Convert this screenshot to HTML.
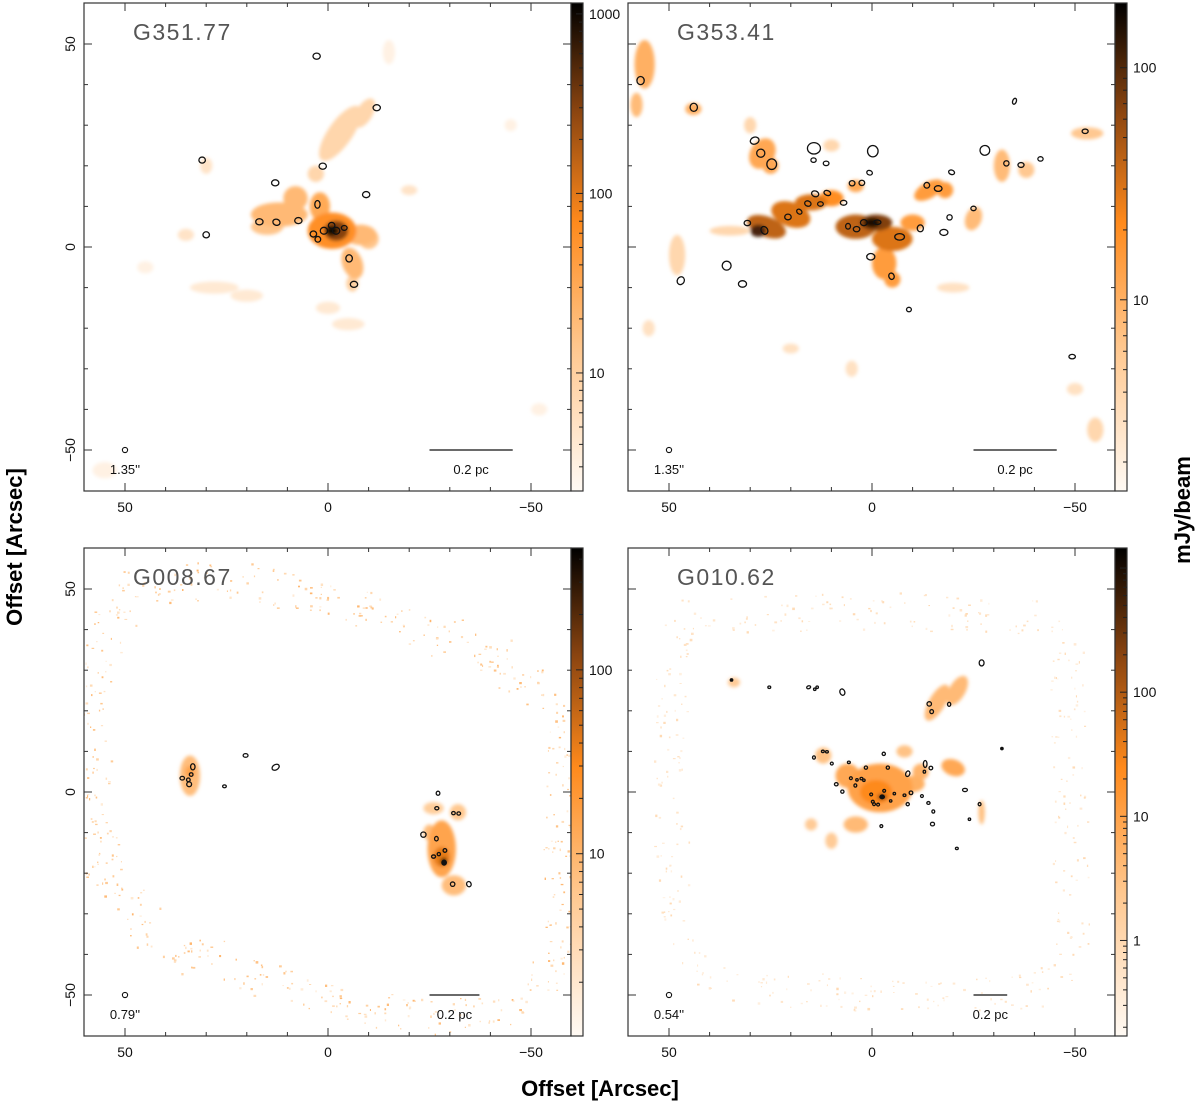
<!DOCTYPE html>
<html><head><meta charset="utf-8"><title>Continuum maps</title>
<style>
html,body{margin:0;padding:0;background:#fff;}
svg{display:block;font-family:"Liberation Sans",sans-serif;}
</style></head>
<body>
<svg id="fig" width="1200" height="1106" viewBox="0 0 1200 1106" xmlns="http://www.w3.org/2000/svg">
<defs>
<filter id="blur" x="-50%" y="-50%" width="200%" height="200%"><feGaussianBlur stdDeviation="1.8"/></filter>
<linearGradient id="cbgrad" x1="0" y1="1" x2="0" y2="0">
<stop offset="0" stop-color="#fffaf4"/><stop offset="0.3" stop-color="#ffc68c"/><stop offset="0.55" stop-color="#ff8a1c"/><stop offset="0.78" stop-color="#8a4410"/><stop offset="1" stop-color="#000"/>
</linearGradient>
</defs>
<text x="22" y="547" transform="rotate(-90 22 547)" text-anchor="middle" font-size="22" font-weight="bold" fill="#000">Offset [Arcsec]</text>
<text x="600" y="1096" text-anchor="middle" font-size="22" font-weight="bold" fill="#000">Offset [Arcsec]</text>
<text x="1190" y="510" transform="rotate(-90 1190 510)" text-anchor="middle" font-size="22" font-weight="bold" fill="#000">mJy/beam</text>
</svg>
<script>
// ---------- data ----------
const panelNames = ["G351.77","G353.41","G008.67","G010.62"];
const beamLabels = ["1.35''","1.35''","0.79''","0.54''"];
const cbMin = [2.2, 1.5, 1.02, 0.17];
const cbMax = [1150, 190, 460, 1450];
const cbLabels = [[10,100,1000],[10,100],[10,100],[1,10,100]];
const scaleBarLen = [20.5, 20.5, 12.3, 8.3];
const xTickLabels = [50,0,-50];
const yTickLabels = [50,0,-50];

// emission blobs: [x, y, rx, ry, angle, mJy]
const blobsTL = [[28,-10,6,1.5,0,4],[20,-12,4,1.5,0,4],[0,-15,3,1.5,0,4],[-5,-19,4,1.5,0,4],[45,-5,2,1.5,0,3],[-15,48,1.5,3,0,3],[-45,30,1.5,1.5,0,3],[55,-55,3,2,0,3],[-52,-40,2,1.5,0,3],[35,3,2,1.5,0,5],[-20,14,2,1.2,0,5],[30,20,1.5,2,0,5],
[-3,28,3,8,-35,8],[-9,33,2,4,-30,8],[3,18,2,2,0,8],[15,5,4,2,0,15],[-10,2,2.5,2.5,0,15],[-6,-9,1.5,2,0,10],[12,8,7,3,0,20],[8,12,3,3,0,20],[-6,-4,2.5,4,20,20],[-8,3,4,2.5,0,20],[2,10,2.5,3.5,0,30],[-1,4,6,4.5,0,60],[-2,4,3,2.5,0,300],[-1,4,1.6,1.2,0,1000]];
const blobsTR = [[-50,-35,2,1.5,0,3],[55,-20,1.5,2,0,3],[-55,-45,2,3,0,4],[-20,-10,4,1.2,0,3],[20,-25,2,1.2,0,3],[5,-30,1.5,2,0,3],[48,-2,2,5,0,4],[35,4,5,1.2,0,4],[30,30,1.5,2,0,4],[10,25,2,1.5,0,4],[-53,28,4,1.5,0,6],[-38,19,2,2,0,6],[58,35,1.5,3,0,8],[-32,20,2,4,0,8],[-25,7,2,3,-20,8],[44,34,2,1.5,0,10],[56,45,2.5,6,0,10],[4,15,2,1.5,0,12],[27,23,3,4,-30,12],[25,20,2,2,0,12],
[-3,-4,3,4,0,15],[-5,-8,2,2,0,15],[-10,6,3,2,0,15],[-14,14,4,2,30,15],[-18,14,2,2,0,15],[10,12,3,2,0,20],[20,8,5,3,-20,30],[15,11,4,2,0,30],[-5,2,5,3,0,30],[26,5,5,2.5,-20,40],[4,5,5,3,0,40],[-1,6,4,2,0,70],[28,4,2,1.5,0,110],[0,6,2,1.2,0,150]];
const blobsBL = [[-26,-4,2.5,1.5,0,5],[-32,-5,2,2,0,6],[34,4,2.5,5,0,8],[-31,-23,3,2.5,0,8],[-25,-10,1.5,2,0,8],[-28,-14,3.5,7,0,15],[34,5,1.2,1.5,0,15],[-28,-16,2,2.5,0,40],[-28.5,-17,0.8,0.8,0,300]];
const blobsBR = [[10,-12,1.5,2,0,2],[34,27,1.5,1.2,0,2],[15,-8,1.5,1.5,0,2],[-8,10,2,1.5,0,3],[12,9,2,2,0,3],[-27,-5,0.8,3,0,3],[-16,22,2,5,-30,4],[-21,25,2,4,-30,4],[4,-8,3,2,0,4],[-12,5,2,2,0,5],[-10,2,3,2,0,6],[6,4,3,3,0,8],[-20,6,3,2,-20,8],[-2,1,8,6,0,10],[-1,0,4,3,0,25],[-2.5,-1.2,1.2,0.8,0,150]];

// source ellipses: [x, y, a, b, angle]
const srcTL = [[2.8,47,.9,.75,0],[-12,34.3,.9,.75,0],[31,21.4,.8,.75,0],[1.3,19.9,.9,.75,0],[13,15.8,.9,.75,0],[-9.4,12.9,.9,.75,0],[2.6,10.5,.65,.95,0],[16.9,6.2,.9,.75,0],[12.7,6.1,.9,.75,-20],[7.3,6.5,.9,.75,0],[30,3,.8,.75,0],[3.6,3.2,.8,.75,0],[2.5,1.9,.7,.7,0],[1,4,.9,.85,0],[-0.9,5.3,.8,.75,0],[-2,4,.9,.85,0],[-4,4.7,.7,.6,0],[-5.2,-2.8,.8,.9,0],[-6.4,-9.2,.9,.75,0]];
const srcTR = [[57,41,.9,1,0],[43.9,34.4,.9,1,0],[28.9,26.2,1.1,.85,20],[27.4,23.1,1,1,0],[24.7,20.4,1.2,1.3,0],[14.3,24.3,1.6,1.4,0],[14.4,21.4,.65,.55,0],[11.3,20.6,.7,.55,0],[-0.2,23.6,1.3,1.4,0],[0.6,18.3,.7,.55,-20],[4.9,15.7,.7,.65,0],[2.5,15.8,.7,.65,0],[14,13.1,.9,.7,-20],[11,13.3,.85,.6,-20],[15.8,10.7,.8,.65,-20],[12.7,10.6,.7,.55,0],[17.9,8.7,.7,.55,-40],[20.7,7.4,.8,.7,0],[7,10.9,.8,.6,0],[30.7,5.9,.8,.65,0],[26.5,4.1,.8,1,30],[5.9,5.1,.6,.7,0],[3.8,4.4,.8,.65,0],[2,6,.85,.75,0],[-1.3,6.1,.9,.55,0],[-6.8,2.5,1.2,.8,0],[-11.9,4.6,.75,.85,0],[-13.5,15.2,.7,.7,0],[-16.3,14.4,.95,.7,0],[-19.6,18.4,.75,.55,-20],[-27.8,23.8,1.2,1.2,30],[-33.1,20.6,.65,.65,-20],[-36.7,20.2,.75,.6,0],[-41.5,21.7,.65,.55,0],[-35.1,35.9,.45,.75,-20],[-52.5,28.5,.75,.55,0],[-19.1,7.3,.65,.65,0],[-17.7,3.6,1,.75,0],[-25,9.5,.65,.55,0],[0.3,-2.4,1,.8,0],[-4.8,-7.2,.65,.8,20],[-9.1,-15.4,.6,.55,0],[35.8,-4.6,1.1,1.1,0],[47.1,-8.3,.85,1,-30],[31.9,-9.1,1,.8,0],[-49.3,-27,.8,.55,0]];
const srcBL = [[33.3,6.2,.55,.75,0],[33.7,4.3,.45,.45,0],[35.9,3.4,.55,.45,0],[34.4,3,.45,.45,0],[34.2,1.9,.6,.6,0],[20.3,9,.6,.45,0],[25.5,1.4,.45,.35,0],[12.9,6.1,.95,.65,30],[-27.1,-0.3,.45,.5,0],[-26.8,-4,.5,.4,0],[-30.9,-5.2,.45,.4,0],[-32.2,-5.3,.45,.4,0],[-23.5,-10.5,.65,.65,0],[-26.7,-11.5,.45,.55,0],[-28.8,-14.4,.45,.45,0],[-27.3,-15.3,.4,.4,0],[-26,-15.9,.5,.4,0],[-28.6,-17.4,.55,.6,0],[-30.7,-22.7,.55,.55,0],[-34.7,-22.7,.55,.65,20]];
const srcBR = [[34.6,27.6,.3,.3,0],[25.3,25.8,.35,.3,0],[15.6,25.8,.5,.35,20],[14.1,25.3,.3,.3,0],[13.5,25.8,.3,.3,0],[7.3,24.6,.6,.8,20],[-27,31.8,.6,.75,0],[-14.1,21.7,.55,.55,0],[-14.7,19.8,.45,.5,0],[-19,21.6,.4,.5,0],[-32,10.7,.3,.3,0],[12.1,10,.35,.3,0],[11.1,9.9,.35,.3,0],[14.3,8.5,.35,.4,0],[-2.9,9.4,.4,.4,0],[9.9,7,.35,.35,0],[5.7,7.3,.35,.3,0],[1.5,6,.4,.4,0],[-3.9,6,.4,.4,0],[-13.1,6.9,.45,.85,0],[-12.9,5,.3,.35,0],[-14.5,5.9,.45,.45,0],[-8.8,4.5,.5,.7,-20],[5.2,3.4,.35,.35,0],[3.7,3,.3,.3,0],[2.6,3.3,.35,.3,0],[2,2.9,.3,.3,0],[8.8,1.9,.45,.4,0],[4.1,1.6,.35,.4,0],[7.3,0.1,.4,.4,0],[-3,0.3,.35,.35,0],[0.2,-0.6,.35,.35,0],[-2.5,-1.2,.55,.45,0],[-5.5,-0.4,.3,.3,0],[-8,-0.8,.35,.3,0],[-9.6,-0.2,.45,.45,0],[-0.2,-2.4,.35,.35,0],[-0.5,-3,.35,.35,0],[-1.5,-3.1,.35,.35,0],[-4.6,-2.2,.3,.3,0],[-12.3,-1,.35,.35,0],[-13.9,-2.7,.4,.35,0],[-8.8,-3,.4,.4,0],[-22.9,0.5,.6,.4,0],[-15.1,-4.8,.35,.4,0],[-26.5,-3,.35,.4,0],[-14.9,-7.9,.5,.45,0],[-24,-6.7,.3,.3,0],[-2.3,-8.4,.35,.35,0],[-20.9,-13.9,.35,.3,0]];
const filledBR = [0,10,32];
const filledBL = [17];

// noise rings (polygon vertices in arcsec)
const ringBL = [[48,50],[25,53],[-10,45],[-40,34],[-57,20],[-58,-40],[-48,-52],[-25,-56],[10,-49],[40,-37],[55,-22],[58,20],[55,40],[48,50]];
const ringBR = [[45,43],[0,45],[-40,43],[-48,35],[-49,-40],[-40,-49],[0,-51],[40,-46],[49,-38],[50,30],[45,43]];
const ringDensity = [0, 0, 1.5, 1.1];
const ringBright = [0, 0, 0.8, 0.55];

const blobs = [blobsTL, blobsTR, blobsBL, blobsBR];
const srcs = [srcTL, srcTR, srcBL, srcBR];
const filled = [[], [], filledBL, filledBR];
const rings = [null, null, ringBL, ringBR];

// ---------- layout ----------
const NS = "http://www.w3.org/2000/svg";
const svg = document.getElementById("fig");
const PX = 4.06;
const frames = [[84,3],[628,3],[84,548],[628,548]];
const W = 487, H = 488;
const stops = [[0,[255,250,244]],[0.3,[255,198,140]],[0.55,[255,138,28]],[0.78,[138,68,16]],[1,[0,0,0]]];
function cmap(t){
  t = Math.max(0, Math.min(1, t));
  for (let i = 1; i < stops.length; i++) {
    if (t <= stops[i][0]) {
      const a = stops[i-1], b = stops[i], f = (t - a[0]) / (b[0] - a[0]);
      const c = a[1].map((v, k) => Math.round(v + (b[1][k] - v) * f));
      return "rgb(" + c.join(",") + ")";
    }
  }
  return "#000";
}
function mk(tag, attrs, parent){
  const e = document.createElementNS(NS, tag);
  for (const k in attrs) e.setAttribute(k, attrs[k]);
  (parent || svg).appendChild(e);
  return e;
}
function hash(i){ const s = Math.sin(i * 12.9898 + 78.233) * 43758.5453; return s - Math.floor(s); }

frames.forEach(function(fr, p){
  const L = fr[0], T = fr[1];
  const xs = v => L + 244 - v * PX;
  const ys = v => T + 244 - v * PX;
  const lmin = Math.log10(cbMin[p]), lmax = Math.log10(cbMax[p]);
  const tOf = v => (Math.log10(v) - lmin) / (lmax - lmin);
  const cbY = v => T + H - tOf(v) * H;

  const g = mk("g", {});
  
  
  const clipId = "clip" + p;
  const cp = mk("clipPath", {id: clipId}, g);
  mk("rect", {x: L, y: T, width: W, height: H}, cp);
  const img = mk("g", {"clip-path": "url(#" + clipId + ")"}, g);

  // noise ring (texture)
  if (rings[p]) {
    const ring = rings[p];
    let n = 0;
    for (let s = 0; s < ring.length - 1; s++) {
      const a = ring[s], b = ring[s+1];
      const len = Math.hypot(b[0]-a[0], b[1]-a[1]);
      const cnt = Math.round(len * ringDensity[p]);
      for (let k = 0; k < cnt; k++) {
        n++;
        const f = hash(n);
        const jx = (hash(n + 0.37) - 0.5) * 9, jy = (hash(n + 0.71) - 0.5) * 9;
        const x = a[0] + (b[0]-a[0]) * f + jx, y = a[1] + (b[1]-a[1]) * f + jy;
        const v = cbMin[p] * Math.pow(10, 0.2 + hash(n + 0.13) * ringBright[p]);
        const r = mk("rect", {x: xs(x).toFixed(1), y: ys(y).toFixed(1), width: (1 + hash(n+0.5)*1.8).toFixed(1), height: (1 + hash(n+0.9)*1.5).toFixed(1), fill: cmap(tOf(v))}, img);
        
        
      }
    }
  }
  // emission blobs
  const eg = mk("g", {filter: "url(#blur)"}, img);
  blobs[p].forEach(function(b){
    const e = mk("ellipse", {cx: xs(b[0]), cy: ys(b[1]), rx: b[2] * PX, ry: b[3] * PX,
      transform: "rotate(" + (-b[4]) + " " + xs(b[0]) + " " + ys(b[1]) + ")", fill: cmap(tOf(b[5]))}, eg);
    
    
  });
  // source ellipses
  srcs[p].forEach(function(s, i){
    const e = mk("ellipse", {cx: xs(s[0]), cy: ys(s[1]), rx: s[2] * PX, ry: s[3] * PX,
      transform: "rotate(" + (-s[4]) + " " + xs(s[0]) + " " + ys(s[1]) + ")",
      fill: filled[p].indexOf(i) >= 0 ? "#111" : "none", stroke: "#111", "stroke-width": 1.3}, img);
    
    
  });

  // frame
  const fr1 = mk("rect", {x: L, y: T, width: W, height: H, fill: "none", stroke: "#333", "stroke-width": 1.2}, g);
  
  

  // ticks
  for (let v = -50; v <= 50; v += 10) {
    const len = (v % 50 === 0) ? 8 : 4;
    mk("line", {x1: xs(v), x2: xs(v), y1: T + H, y2: T + H - len, stroke: "#333"}, g);
    mk("line", {x1: xs(v), x2: xs(v), y1: T, y2: T + len, stroke: "#333"}, g);
    mk("line", {x1: L, x2: L + len, y1: ys(v), y2: ys(v), stroke: "#333"}, g);
    mk("line", {x1: L + W, x2: L + W - len, y1: ys(v), y2: ys(v), stroke: "#333"}, g);
  }
  xTickLabels.forEach(function(v){
    const t = mk("text", {x: xs(v), y: T + H + 21, "text-anchor": "middle", "font-size": 14, fill: "#111"}, g);
    t.textContent = v < 0 ? "\u2212" + (-v) : String(v);
    
    
  });
  if (p % 2 === 0) {
    yTickLabels.forEach(function(v){
      const t = mk("text", {x: 75, y: ys(v), "text-anchor": "middle", "font-size": 14, fill: "#111", transform: "rotate(-90 75 " + ys(v) + ")"}, g);
      t.textContent = v < 0 ? "\u2212" + (-v) : String(v);
      
      
    });
  }

  // colorbar
  const cbx = L + W;
  const cb = mk("rect", {x: cbx, y: T, width: 12, height: H, fill: "url(#cbgrad)", stroke: "#333", "stroke-width": 1.2}, g);
  
  
  for (let d = Math.floor(lmin); d <= Math.ceil(lmax); d++) {
    for (let m = 1; m <= 9; m++) {
      const v = m * Math.pow(10, d);
      if (v < cbMin[p] || v > cbMax[p]) continue;
      const len = m === 1 ? 7 : 4;
      mk("line", {x1: cbx + 12, x2: cbx + 12 - len, y1: cbY(v), y2: cbY(v), stroke: "#222"}, g);
    }
  }
  cbLabels[p].forEach(function(v){
    const t = mk("text", {x: cbx + 18, y: cbY(v) + 5, "font-size": 14, fill: "#111"}, g);
    t.textContent = String(v);
    
    
  });

  // title
  const tt = mk("text", {x: L + 49, y: T + 37, "font-size": 23, fill: "#555", "letter-spacing": "1.5"}, g);
  tt.textContent = panelNames[p];
  
  

  // beam
  const bm = mk("circle", {cx: xs(50), cy: ys(-50), r: 2.6, fill: "none", stroke: "#111", "stroke-width": 1.1}, g);
  
  
  const bl = mk("text", {x: xs(50), y: ys(-50) + 24, "text-anchor": "middle", "font-size": 13, fill: "#111"}, g);
  bl.textContent = beamLabels[p];
  
  

  // scale bar
  const sb = mk("line", {x1: xs(-25), x2: xs(-25 - scaleBarLen[p]), y1: ys(-50), y2: ys(-50), stroke: "#111", "stroke-width": 1.2}, g);
  
  
  const sl = mk("text", {x: (xs(-25) + xs(-25 - scaleBarLen[p])) / 2, y: ys(-50) + 24, "text-anchor": "middle", "font-size": 13, fill: "#111"}, g);
  sl.textContent = "0.2 pc";
  
  
});
</script>
</body></html>
